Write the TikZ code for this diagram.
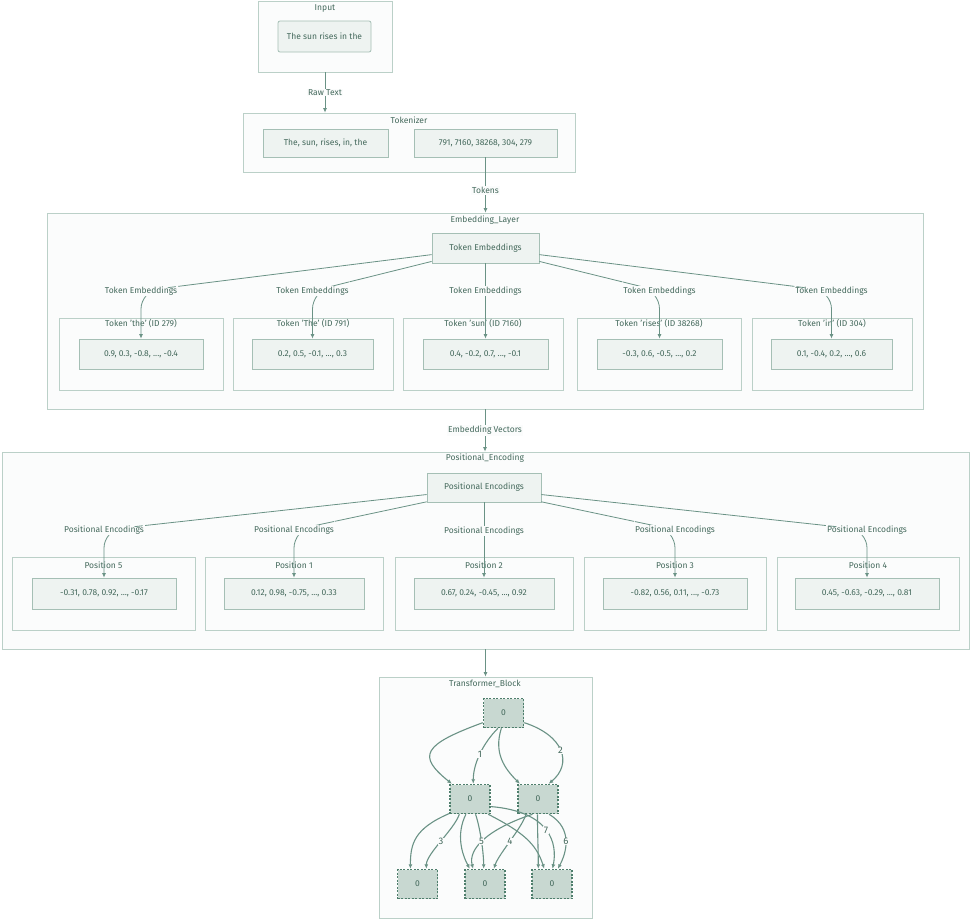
\documentclass[tikz,border=0pt]{standalone}
\usepackage{fontspec}
\setmainfont{Fira Sans}
\usetikzlibrary{arrows.meta}

\definecolor{ink}{HTML}{44695C}
\definecolor{edgecol}{HTML}{6A9285}
\definecolor{clusterline}{HTML}{BBD0C8}
\definecolor{clusterfill}{HTML}{FBFCFC}
\definecolor{boxline}{HTML}{A5BFB5}
\definecolor{boxfill}{HTML}{EEF3F1}
\definecolor{opline}{HTML}{4E7E6C}
\definecolor{opfill}{HTML}{C8D8D1}

\tikzset{
  cluster/.style={draw=clusterline, fill=clusterfill, line width=0.8pt, inner sep=0pt},
  box/.style={draw=boxline, fill=boxfill, line width=0.8pt, inner sep=0pt, text=ink, font=\fontsize{8.5}{10}\selectfont},
  ctitle/.style={text=ink, inner sep=1pt, font=\fontsize{8.5}{10}\selectfont},
  elabel/.style={fill=clusterfill, text=ink, inner sep=1pt, font=\fontsize{8.5}{10}\selectfont},
  num/.style={fill=clusterfill, text=ink, inner sep=0.5pt, font=\fontsize{9.5}{10}\selectfont},
  link/.style={draw=edgecol, line width=0.8pt, ->},
  oplink/.style={draw=edgecol, line width=1.1pt, ->},
  opbox/.style={draw=opline, fill=opfill, line width=1.5pt, dash pattern=on 2pt off 1.5pt,
    minimum width=40pt, minimum height=29pt, inner sep=0pt, text=ink, font=\fontsize{8.5}{10}\selectfont},
}

\begin{document}
\begin{tikzpicture}[x=1pt, y=-1pt, >={Latex[length=4.5pt,width=4pt]}]
            \useasboundingbox (0,0) rectangle (971,921);
            \fill [white] (0,0) rectangle (971,921);

            % input
            \node [cluster, minimum width=134pt, minimum height=71pt] (input) at (325,36.5) {};
            \node [ctitle] (inputtitle) at (325,8) {Input};
            \node [box, rounded corners=2pt, minimum width=93pt, minimum height=31pt] (rawtext) at (324.5,36.5) {The sun rises in the};

            % tokenizer
            \node [cluster, minimum width=332pt, minimum height=59pt] (tokenizer) at (409,142.5) {};
            \node [ctitle] (tokenizertitle) at (409,120) {Tokenizer};
            \node [box, minimum width=125pt, minimum height=28pt] (words) at (325.5,143) {The, sun, rises, in, the};
            \node [box, minimum width=143pt, minimum height=28pt] (ids) at (485.5,143) {791, 7160, 38268, 304, 279};

            % embedding layer
            \node [cluster, minimum width=876pt, minimum height=196pt] (emb) at (485,311) {};
            \node [ctitle] (embtitle) at (485,220) {Embedding\_Layer};
            \node [box, minimum width=107pt, minimum height=30pt] (te) at (485.5,248) {Token Embeddings};
            \node [cluster, minimum width=164pt, minimum height=72pt] (e1) at (141,354) {};
            \node [cluster, minimum width=160pt, minimum height=72pt] (e2) at (313,354) {};
            \node [cluster, minimum width=160pt, minimum height=72pt] (e3) at (483,354) {};
            \node [cluster, minimum width=164pt, minimum height=72pt] (e4) at (659,354) {};
            \node [cluster, minimum width=160pt, minimum height=72pt] (e5) at (832,354) {};
            \node [ctitle] (e1title) at (141,324) {Token 'the' (ID 279)};
            \node [ctitle] (e2title) at (313,324) {Token 'The' (ID 791)};
            \node [ctitle] (e3title) at (483,324) {Token 'sun' (ID 7160)};
            \node [ctitle] (e4title) at (659,324) {Token 'rises' (ID 38268)};
            \node [ctitle] (e5title) at (832,324) {Token 'in' (ID 304)};
            \node [box, minimum width=124pt, minimum height=30pt] (v1) at (141,354) {0.9, 0.3, -0.8, ..., -0.4};
            \node [box, minimum width=121pt, minimum height=30pt] (v2) at (312.5,354) {0.2, 0.5, -0.1, ..., 0.3};
            \node [box, minimum width=125pt, minimum height=30pt] (v3) at (485.5,354) {0.4, -0.2, 0.7, ..., -0.1};
            \node [box, minimum width=125pt, minimum height=30pt] (v4) at (659.5,354) {-0.3, 0.6, -0.5, ..., 0.2};
            \node [box, minimum width=121pt, minimum height=30pt] (v5) at (831.5,354) {0.1, -0.4, 0.2, ..., 0.6};
            \draw [link, rounded corners=18pt] (te.187) -- (141,291) node [elabel] {Token Embeddings} -- (v1.north);
            \draw [link, rounded corners=18pt] (te.194) -- (312.5,291) node [elabel] {Token Embeddings} -- (v2.north);
            \draw [link] (te.south) -- node [elabel, pos=0.37] {Token Embeddings} (v3.north);
            \draw [link, rounded corners=18pt] (te.346) -- (659.5,291) node [elabel] {Token Embeddings} -- (v4.north);
            \draw [link, rounded corners=18pt] (te.353) -- (831.5,291) node [elabel] {Token Embeddings} -- (v5.north);

            % positional encoding
            \node [cluster, minimum width=967pt, minimum height=197pt] (pe) at (485.5,550.5) {};
            \node [ctitle] (petitle) at (485,458) {Positional\_Encoding};
            \node [box, minimum width=114pt, minimum height=29pt] (penc) at (484,487.5) {Positional Encodings};
            \node [cluster, minimum width=183pt, minimum height=73pt] (p1) at (103.5,593.5) {};
            \node [cluster, minimum width=178pt, minimum height=73pt] (p2) at (294,593.5) {};
            \node [cluster, minimum width=178pt, minimum height=73pt] (p3) at (484,593.5) {};
            \node [cluster, minimum width=182pt, minimum height=73pt] (p4) at (675,593.5) {};
            \node [cluster, minimum width=182pt, minimum height=73pt] (p5) at (868,593.5) {};
            \node [ctitle] (p1title) at (103.5,565) {Position 5};
            \node [ctitle] (p2title) at (294,565) {Position 1};
            \node [ctitle] (p3title) at (484,565) {Position 2};
            \node [ctitle] (p4title) at (675,565) {Position 3};
            \node [ctitle] (p5title) at (868,565) {Position 4};
            \node [box, minimum width=144pt, minimum height=31pt] (w1) at (104,593.5) {-0.31, 0.78, 0.92, ..., -0.17};
            \node [box, minimum width=140pt, minimum height=31pt] (w2) at (294,593.5) {0.12, 0.98, -0.75, ..., 0.33};
            \node [box, minimum width=140pt, minimum height=31pt] (w3) at (484,593.5) {0.67, 0.24, -0.45, ..., 0.92};
            \node [box, minimum width=144pt, minimum height=31pt] (w4) at (675,593.5) {-0.82, 0.56, 0.11, ..., -0.73};
            \node [box, minimum width=144pt, minimum height=31pt] (w5) at (867,593.5) {0.45, -0.63, -0.29, ..., 0.81};
            \draw [link, rounded corners=18pt] (penc.187) -- (104,530) node [elabel] {Positional Encodings} -- (w1.north);
            \draw [link, rounded corners=18pt] (penc.194) -- (294,530) node [elabel] {Positional Encodings} -- (w2.north);
            \draw [link] (penc.south) -- node [elabel, pos=0.38] {Positional Encodings} (w3.north);
            \draw [link, rounded corners=18pt] (penc.346) -- (675,530) node [elabel] {Positional Encodings} -- (w4.north);
            \draw [link, rounded corners=18pt] (penc.353) -- (867,530) node [elabel] {Positional Encodings} -- (w5.north);

            % transformer block
            \node [cluster, minimum width=213pt, minimum height=241pt] (tb) at (485.5,797.5) {};
            \node [ctitle] (tbtitle) at (485,684) {Transformer\_Block};
            \node [opbox] (t) at (503.5,713) {0};
            \node [opbox] (ml) at (470,799) {0};
            \node [opbox] (mr) at (538,799) {0};
            \node [opbox] (bl) at (417.5,884) {0};
            \node [opbox] (bm) at (485,884) {0};
            \node [opbox] (br) at (552,884) {0};
            \draw [oplink] (t.205) .. controls +(-60,22) and +(-35,-28) .. (ml.140);
            \draw [oplink] (t.262) .. controls +(-8,25) and +(-15,-15) .. (mr.140);
            \draw [oplink] (ml.215) .. controls +(-35,15) and +(0,-25) .. (bl.115);
            \draw [oplink] (ml.255) .. controls +(-10,20) and +(-8,-15) .. (bm.135);
            \draw [oplink] (ml.320) .. controls +(35,18) and +(-8,-25) .. (br.117);
            \draw [oplink] (mr.250) .. controls +(-45,15) and +(-5,-20) .. (bm.128);
            \draw [oplink] (mr.268) .. controls +(0,20) and +(0,-20) .. (br.132);
            \draw [oplink] (t.250) .. controls +(-15,15) and +(0,-20) .. node [num] {1} (ml.78);
            \draw [oplink] (t.335) .. controls +(40,13) and +(24,-20) .. node [num] {2} (mr.55);
            \draw [oplink] (ml.235) .. controls +(-5,15) and +(0,-15) .. node [num] {3} (bl.60);
            \draw [oplink] (ml.290) .. controls +(5,15) and +(0,-15) .. node [num] {5} (bm.95);
            \draw [oplink] (ml.340) .. controls +(60,5) and +(5,-25) .. node [num] {7} (br.88);
            \draw [oplink] (mr.232) .. controls +(-5,15) and +(5,-15) .. node [num] {4} (bm.60);
            \draw [oplink] (mr.306) .. controls +(25,15) and +(8,-15) .. node [num] {6} (br.69);

            % links between the groups
            \draw [link] (input.south) -- node [elabel] {Raw Text} (input.south |- tokenizer.north);
            \draw [link] (ids.south) -- node [elabel, pos=0.6] {Tokens} (ids.south |- emb.north);
            \draw [link] (emb.south) -- node [elabel] {Embedding Vectors} (emb.south |- pe.north);
            \draw [link] (pe.south) -- (pe.south |- tb.north);
        \end{tikzpicture}
\end{document}
